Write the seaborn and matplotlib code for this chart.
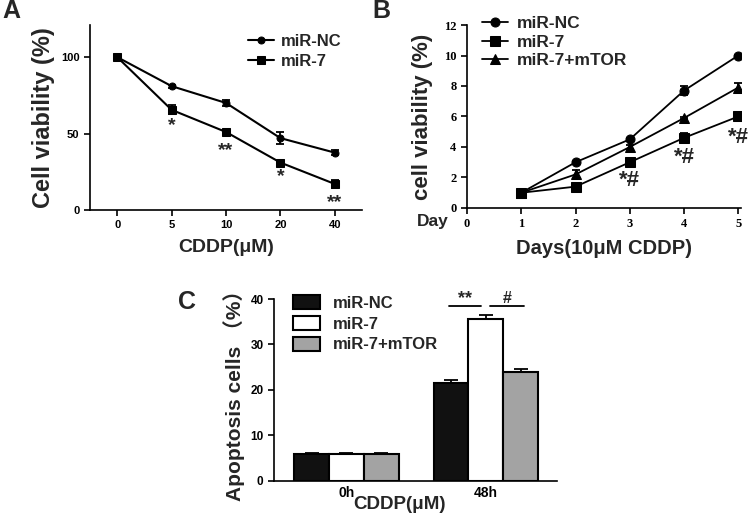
import matplotlib
matplotlib.use("Agg")
import matplotlib.pyplot as plt
import seaborn as sns
import pandas as pd
import numpy as np

# ---- Panel A: viability vs CDDP dose ----
dose_labels = ["0", "5", "10", "20", "40"]
a_nc = [100, 81, 70, 47, 37.5]
a_nc_err = [0.5, 1, 2, 4, 1.5]
a_mir7 = [100, 65.5, 51, 31, 17]
a_mir7_err = [0.5, 3, 1.5, 1, 2.5]
a_marks = ["*", "**", "*", "**"]
a_mark_y = [55, 39, 22, 5]

# ---- Panel B: viability over days ----
days = [1, 2, 3, 4, 5]
b_nc = [1, 3, 4.5, 7.7, 10]
b_nc_err = [0.05, 0.1, 0.1, 0.3, 0.05]
b_mir7 = [1, 1.4, 3, 4.6, 6]
b_mir7_err = [0.05, 0.1, 0.1, 0.3, 0.05]
b_mtor = [1, 2.2, 4.0, 5.9, 7.9]
b_mtor_err = [0.05, 0.3, 0.1, 0.05, 0.3]
b_marks_x = [3, 4, 5]
b_marks_y = [1.8, 3.3, 4.6]

# ---- Panel C: apoptosis ----
times = ["0h", "48h"]
groups = ["miR-NC", "miR-7", "miR-7+mTOR"]
c_vals = {"miR-NC": [6.0, 21.5], "miR-7": [5.9, 35.7], "miR-7+mTOR": [6.0, 24.0]}
c_errs = {"miR-NC": [0.2, 0.8], "miR-7": [0.3, 0.7], "miR-7+mTOR": [0.2, 0.7]}

sns.set_style("ticks")
plt.rcParams["font.family"] = ["Liberation Sans", "DejaVu Sans"]
plt.rcParams["font.weight"] = "bold"
plt.rcParams["axes.labelweight"] = "bold"
plt.rcParams["axes.linewidth"] = 1.2
plt.rcParams["xtick.major.width"] = 1.2
plt.rcParams["ytick.major.width"] = 1.2
plt.rcParams["xtick.major.size"] = 4
plt.rcParams["ytick.major.size"] = 4
plt.rcParams["xtick.color"] = "black"
plt.rcParams["ytick.color"] = "black"
plt.rcParams["axes.edgecolor"] = "black"

fig = plt.figure(figsize=(7.5, 5.21), dpi=100)
axA = fig.add_axes([0.12, 0.597, 0.3627, 0.355])
axB = fig.add_axes([0.6227, 0.6008, 0.3653, 0.3512])
axC = fig.add_axes([0.3653, 0.0768, 0.3774, 0.3493])

# Panel A
xa = np.arange(len(dose_labels))
for vals, errs, mk, ms, lab in [(a_nc, a_nc_err, "o", 5, "miR-NC"),
                                (a_mir7, a_mir7_err, "s", 6, "miR-7")]:
    sns.lineplot(x=xa, y=vals, ax=axA, color="black", marker=mk, markersize=ms,
                 markeredgecolor="black", linewidth=1.5, label=lab)
    axA.errorbar(xa, vals, yerr=errs, fmt="none", ecolor="black", elinewidth=1.3, capsize=3, capthick=1.3)
for x, y, t in zip(xa[1:], a_mark_y, a_marks):
    axA.text(x, y, t, ha="center", va="center", fontsize=14, fontweight="bold")
axA.set_xlim(-0.5, 4.5)
axA.set_ylim(0, 121)
axA.set_xticks(xa)
axA.set_xticklabels(dose_labels)
axA.set_yticks([0, 50, 100])
axA.tick_params(labelsize=8)
axA.set_xlabel("CDDP(μM)", fontsize=14, fontweight="bold", labelpad=6)
axA.set_ylabel("Cell viability (%)", fontsize=17, fontweight="bold", labelpad=4)
sns.despine(ax=axA)
axA.legend(loc="upper left", bbox_to_anchor=(0.58, 0.95), frameon=False, fontsize=12,
           handlelength=1.6, handletextpad=0.4, labelspacing=0.3, borderpad=0, borderaxespad=0)

# Panel B
for vals, errs, mk, lab in [(b_nc, b_nc_err, "o", "miR-NC"),
                            (b_mir7, b_mir7_err, "s", "miR-7"),
                            (b_mtor, b_mtor_err, "^", "miR-7+mTOR")]:
    sns.lineplot(x=days, y=vals, ax=axB, color="black", marker=mk, markersize=6.5,
                 markeredgecolor="black", linewidth=1.3, label=lab)
    axB.errorbar(days, vals, yerr=errs, fmt="none", ecolor="black", elinewidth=1.3, capsize=3, capthick=1.3)
for x, y in zip(b_marks_x, b_marks_y):
    axB.text(x, y, "*#", ha="center", va="center", fontsize=16, fontweight="bold")
axB.set_xlim(0, 5.05)
axB.set_ylim(0, 12)
axB.set_xticks(range(0, 6))
axB.set_yticks(range(0, 13, 2))
for lbl in axB.get_xticklabels() + axB.get_yticklabels():
    lbl.set_fontfamily("Liberation Serif")
    lbl.set_fontsize(9)
axB.set_xlabel("Days(10μM CDDP)", fontsize=14.5, fontweight="bold", labelpad=6)
axB.set_ylabel("cell viability (%)", fontsize=16, fontweight="bold", labelpad=8)
axB.text(-0.125, -0.075, "Day", transform=axB.transAxes, ha="center", va="center",
         fontsize=12.5, fontweight="bold")
sns.despine(ax=axB)
axB.legend(loc="upper left", bbox_to_anchor=(0.055, 1.05), frameon=False, fontsize=12.5,
           handlelength=1.5, handletextpad=0.5, labelspacing=0.2, borderpad=0, borderaxespad=0)

# Panel C
rows = []
for g in groups:
    for t, v in zip(times, c_vals[g]):
        rows.append({"time": t, "group": g, "value": v})
dfc = pd.DataFrame(rows)
sns.barplot(data=dfc, x="time", y="value", hue="group", hue_order=groups, order=times,
            palette={"miR-NC": "#111111", "miR-7": "white", "miR-7+mTOR": "#a3a3a3"},
            edgecolor="black", linewidth=1.5, width=0.75, errorbar=None, ax=axC)
bw = 0.25
for i, g in enumerate(groups):
    xs = np.arange(len(times)) + (i - 1) * bw
    axC.errorbar(xs, c_vals[g], yerr=[np.zeros(len(times)), c_errs[g]], fmt="none",
                 ecolor="black", elinewidth=1.3, capsize=5, capthick=1.3)
axC.plot([0.737, 0.968], [38.4, 38.4], color="black", lw=1.3)
axC.plot([1.032, 1.27], [38.4, 38.4], color="black", lw=1.3)
axC.text(0.85, 38.3, "**", ha="center", va="bottom", fontsize=13, fontweight="bold")
axC.text(1.15, 38.5, "#", ha="center", va="bottom", fontsize=11.5, fontweight="bold")
axC.set_xlim(-0.52, 1.51)
axC.set_ylim(0, 40)
axC.set_yticks(range(0, 41, 10))
axC.tick_params(axis="y", labelsize=8.5)
axC.tick_params(axis="x", labelsize=10, length=0)
axC.set_xlabel("CDDP(μM)", fontsize=13.5, fontweight="bold", labelpad=-6)
axC.xaxis.set_label_coords(0.445, -0.08)
axC.set_ylabel("Apoptosis cells （%）", fontsize=15, fontweight="bold",
               family=["Liberation Sans", "Noto Sans CJK SC"], labelpad=4)
sns.despine(ax=axC)
axC.legend(loc="upper left", bbox_to_anchor=(0.067, 1.02), frameon=False, fontsize=12,
           handlelength=1.6, handleheight=0.9, handletextpad=0.8, labelspacing=0.3,
           borderpad=0, borderaxespad=0)

fig.text(0.015, 0.978, "A", fontsize=18, fontweight="bold", ha="center", va="center")
fig.text(0.508, 0.978, "B", fontsize=18, fontweight="bold", ha="center", va="center")
fig.text(0.249, 0.42, "C", fontsize=18, fontweight="bold", ha="center", va="center")

fig.savefig("out.png", dpi=100)
